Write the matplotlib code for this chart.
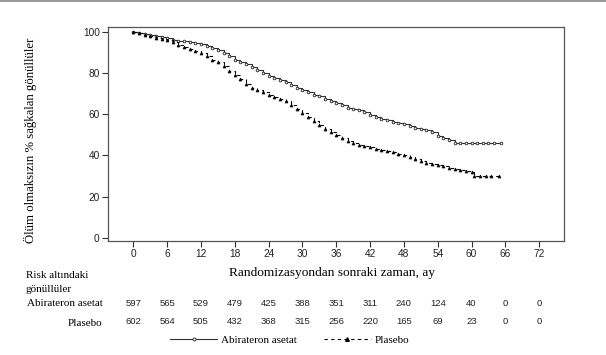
import matplotlib
matplotlib.use("Agg")
import matplotlib.pyplot as plt
import matplotlib.transforms as mtransforms
from matplotlib.lines import Line2D

# ---- data ----
abi_months = [0, 1, 2, 3, 4, 5, 6, 7, 8, 9, 10, 11, 12, 13, 14, 15, 16, 17, 18, 19,
              20, 21, 22, 23, 24, 25, 26, 27, 28, 29, 30, 31, 32, 33, 34, 35, 36, 37,
              38, 39, 40, 41, 42, 43, 44, 45, 46, 47, 48, 49, 50, 51, 52, 53, 54, 55,
              56, 57, 58, 59, 60, 61, 62, 63, 64, 65.2]
abi_surv = [100, 99.5, 99, 98.5, 98, 97.5, 97, 96.2, 95.6, 95.3, 95, 94.5, 94, 93, 92,
            91, 89.5, 88, 86.5, 85.5, 84.5, 83, 81.5, 80, 78.5, 77.5, 76.5, 75.5, 74,
            72.5, 71.6, 70.5, 69.5, 68.6, 67.5, 66.3, 65.3, 64.2, 63.2, 62.6, 62, 61,
            59.8, 58.5, 57.8, 57, 56.2, 55.6, 55, 54.2, 53.5, 52.8, 52.2, 51.5, 49.5,
            48.5, 47.2, 46, 46, 46, 46, 46, 46, 46, 46, 46]

pla_months = [0, 1, 2, 3, 4, 5, 6, 7, 8, 9, 10, 11, 12, 13, 14, 15, 16, 17, 18, 19,
              20, 21, 22, 23, 24, 25, 26, 27, 28, 29, 30, 31, 32, 33, 34, 35, 36, 37,
              38, 39, 40, 41, 42, 43, 44, 45, 46, 47, 48, 49, 50, 51, 52, 53, 54, 55,
              56, 57, 58, 59, 60, 60.5, 61.5, 62.5, 63.5, 64.8]
pla_surv = [100, 99.3, 98.5, 97.8, 97, 96.3, 95.8, 95, 93.5, 92.5, 91.5, 90.5, 89.5, 88,
            86.5, 85.3, 83.5, 81, 79, 77, 74.5, 72.5, 71.5, 70.5, 69.5, 68.5, 67.5, 66.3,
            64.5, 62.5, 60.5, 58.5, 56.5, 54.7, 53, 51.5, 50, 48.5, 47, 45.8, 45, 44.5,
            44, 43.2, 42.6, 42, 41.4, 40.8, 40.2, 39.2, 38, 37.2, 36.5, 36, 35.3, 34.6,
            34, 33.5, 33, 32.5, 31.8, 30, 30, 30, 30, 30]

risk_times = [0, 6, 12, 18, 24, 30, 36, 42, 48, 54, 60, 66, 72]
risk_abi = [597, 565, 529, 479, 425, 388, 351, 311, 240, 124, 40, 0, 0]
risk_pla = [602, 564, 505, 432, 368, 315, 256, 220, 165, 69, 23, 0, 0]

y_ticks = [0, 20, 40, 60, 80, 100]

SERIF = "Liberation Serif"
SANS = "Liberation Sans"
W, H = 606, 355

fig = plt.figure(figsize=(W / 100, H / 100), dpi=100)
ax = fig.add_axes([108 / W, 1 - 241 / H, (564 - 108) / W, (241 - 27) / H])

ax.plot(abi_months, abi_surv, drawstyle="steps-post", color="#333333", lw=0.8,
        marker="o", ms=1.9, mfc="white", mec="#222222", mew=0.6)
ax.plot(pla_months, pla_surv, drawstyle="steps-post", color="black", lw=0.8,
        ls=(0, (3, 3)), marker="^", ms=2.2, mfc="black", mec="black", mew=0.4)

ax.set_xlim(-4.5, 76.4)
ax.set_ylim(-1.6, 102.3)
ax.set_xticks(risk_times)
ax.set_yticks(y_ticks)
ax.tick_params(direction="out", length=4, width=0.8, color="#333333",
               labelsize=7.3, pad=2)
for lab in ax.get_xticklabels() + ax.get_yticklabels():
    lab.set_fontfamily(SANS)
    lab.set_color("#222222")
for sp in ax.spines.values():
    sp.set_color("#555555")
    sp.set_linewidth(0.9)

# axis labels
fig.text(332 / W, 1 - 273 / H, "Randomizasyondan sonraki zaman, ay",
         ha="center", va="center", fontsize=9.6, family=SERIF)
fig.text(30 / W, 1 - 140 / H, "Ölüm olmaksızın % sağkalan gönüllüler",
         ha="center", va="center", rotation=90, fontsize=9.2, family=SERIF)

# number-at-risk table
fig.text(26 / W, 1 - 276 / H, "Risk altındaki", ha="left", va="center",
         fontsize=8, family=SERIF)
fig.text(26 / W, 1 - 290 / H, "gönüllüler", ha="left", va="center",
         fontsize=8, family=SERIF)
fig.text(103 / W, 1 - 304 / H, "Abirateron asetat", ha="right", va="center",
         fontsize=8, family=SERIF)
fig.text(102 / W, 1 - 323 / H, "Plasebo", ha="right", va="center",
         fontsize=8, family=SERIF)

trans = mtransforms.blended_transform_factory(ax.transData, fig.transFigure)
for t, a, p in zip(risk_times, risk_abi, risk_pla):
    ax.text(t, 1 - 304 / H, str(a), transform=trans, ha="center", va="center",
            fontsize=6.8, family=SANS, color="#222222", clip_on=False)
    ax.text(t, 1 - 322 / H, str(p), transform=trans, ha="center", va="center",
            fontsize=6.8, family=SANS, color="#222222", clip_on=False)

# legend
handles = [
    Line2D([], [], color="#333333", lw=0.8, marker="o", ms=2.2, mfc="white",
           mec="#222222", mew=0.6),
    Line2D([], [], color="black", lw=0.8, ls=(0, (3, 3)), marker="^", ms=2.6,
           mfc="black", mec="black"),
]
fig.legend(handles, ["Abirateron asetat", "Plasebo"], loc="center",
           bbox_to_anchor=(290 / W, 1 - 340 / H), ncol=2, frameon=False,
           handlelength=4.2, columnspacing=2.4, handletextpad=0.4, numpoints=1,
           prop={"family": SERIF, "size": 8})

# thin grey page rule at the very top
fig.add_artist(Line2D([0, 1], [1 - 0.8 / H, 1 - 0.8 / H], transform=fig.transFigure,
                      color="#888888", lw=1.2))

fig.savefig("out.png", dpi=100)
